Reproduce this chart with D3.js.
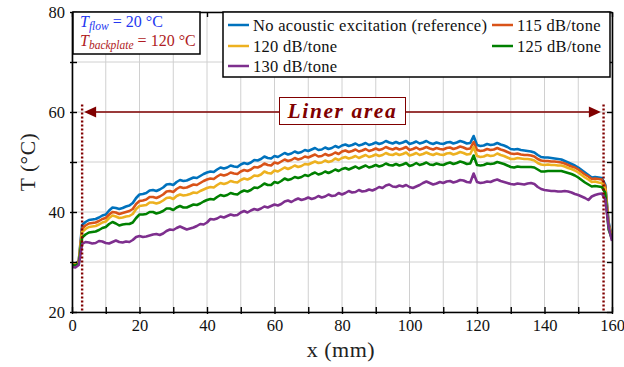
<!DOCTYPE html>
<html><head><meta charset="utf-8">
<script src="https://cdn.jsdelivr.net/npm/d3@7"></script>
<style>
body{margin:0;background:#fff}
svg{display:block}
text{font-family:"Liberation Serif","Times New Roman",serif}
</style>
</head><body>
<svg id="c" width="624" height="367"></svg>
<script>
// ---------- DATA ----------
const xMm = d3.range(0, 161, 1); // sample positions, mm
const seriesNames = ["No acoustic excitation (reference)", "115 dB/tone", "120 dB/tone", "125 dB/tone", "130 dB/tone"];
const seriesColors = ["#0072BD", "#D95319", "#EDB120", "#008000", "#7E2F8E"];
const tRef = [29.8,29.7,30.2,37.4,38.0,38.4,38.5,38.6,38.9,39.3,39.5,40.3,40.9,40.8,40.6,40.8,41.1,41.3,41.8,42.8,
43.5,43.6,43.8,44.3,44.4,44.2,44.5,44.9,45.5,45.6,45.4,46.0,46.4,46.2,46.3,46.6,46.9,46.8,47.2,47.6,
47.9,48.1,48.0,48.5,48.9,48.7,48.9,49.3,49.1,49.0,49.5,49.8,49.6,49.9,50.4,50.3,50.6,51.1,50.8,50.7,
51.2,51.0,51.4,51.8,51.5,51.7,52.1,51.8,52.0,52.4,52.2,52.5,52.8,52.4,52.5,52.9,52.6,52.8,53.2,52.9,
53.3,53.5,53.2,53.4,53.7,53.3,53.5,53.8,53.4,53.6,53.9,53.6,53.8,54.2,53.9,53.7,54.0,53.7,53.9,54.2,
53.6,53.8,54.1,53.7,53.9,54.2,53.8,53.6,53.9,53.7,53.6,53.9,54.0,53.7,53.9,54.2,54.0,53.7,53.8,55.2,
53.4,53.2,53.3,53.6,53.4,53.5,53.8,53.5,53.3,53.0,52.6,52.5,52.6,52.4,52.3,52.2,52.1,51.9,51.4,51.0,
50.9,50.9,50.8,50.7,50.6,50.5,50.2,49.9,49.6,49.3,48.9,48.4,47.9,47.4,46.9,47.0,46.9,46.8,45.5,38.0,34.8];
const t115 = [29.8,29.6,30.1,36.7,37.3,37.7,37.8,37.9,38.2,38.6,38.8,39.5,40.0,39.9,39.6,39.8,40.0,40.2,40.6,41.6,
42.2,42.3,42.5,43.0,43.0,42.8,43.1,43.5,44.1,44.2,44.0,44.6,45.0,44.8,44.9,45.2,45.5,45.4,45.8,46.2,
46.5,46.7,46.6,47.1,47.5,47.3,47.5,47.9,47.7,47.6,48.1,48.4,48.2,48.5,49.0,48.9,49.2,49.7,49.4,49.3,
49.9,49.7,50.1,50.5,50.2,50.4,50.8,50.5,50.7,51.1,50.9,51.2,51.5,51.1,51.2,51.6,51.3,51.5,51.9,51.6,
52.1,52.3,52.0,52.2,52.5,52.1,52.3,52.6,52.2,52.4,52.7,52.4,52.6,53.0,52.7,52.5,52.8,52.5,52.7,53.0,
52.4,52.6,52.9,52.5,52.7,53.0,52.7,52.5,52.8,52.6,52.5,52.8,52.9,52.6,52.8,53.1,52.9,52.6,52.7,54.0,
52.4,52.2,52.3,52.6,52.4,52.5,52.8,52.5,52.3,52.0,51.7,51.6,51.7,51.5,51.4,51.4,51.3,51.1,50.6,50.3,
50.2,50.2,50.1,50.1,50.0,49.9,49.7,49.4,49.1,48.9,48.5,48.0,47.5,47.1,46.6,46.7,46.6,46.5,45.2,37.6,34.6];
const t120 = [29.6,29.5,30.0,36.0,36.6,37.0,37.1,37.2,37.5,37.9,38.1,38.8,39.3,39.1,38.8,38.9,39.1,39.2,39.6,40.6,
41.2,41.3,41.4,41.9,41.9,41.7,41.9,42.3,42.8,42.9,42.6,43.2,43.5,43.3,43.4,43.6,43.9,43.8,44.2,44.5,
44.8,45.0,44.9,45.4,45.8,45.6,45.8,46.2,46.0,45.9,46.4,46.7,46.5,46.8,47.3,47.2,47.5,48.1,47.8,47.7,
48.3,48.1,48.5,48.9,48.6,48.9,49.3,49.0,49.2,49.6,49.5,49.8,50.1,49.8,49.9,50.3,50.0,50.2,50.7,50.4,
50.8,51.0,50.7,50.9,51.2,50.8,51.1,51.4,51.0,51.2,51.5,51.2,51.4,51.8,51.5,51.4,51.7,51.4,51.6,51.9,
51.3,51.5,51.8,51.4,51.6,51.9,51.6,51.4,51.7,51.5,51.4,51.7,51.8,51.5,51.7,52.0,51.8,51.5,51.6,53.0,
51.2,51.0,51.1,51.4,51.2,51.3,51.7,51.4,51.2,50.9,50.6,50.6,50.8,50.7,50.6,50.6,50.5,50.3,49.8,49.5,
49.4,49.5,49.4,49.4,49.3,49.3,49.1,48.8,48.6,48.3,47.9,47.4,46.9,46.5,46.0,46.1,45.9,45.8,44.6,37.2,34.7];
const t125 = [29.4,29.3,29.7,34.9,35.5,35.9,36.0,36.1,36.4,36.8,37.0,37.6,38.0,37.7,37.3,37.5,37.6,37.6,37.9,38.8,
39.5,39.5,39.6,40.0,40.0,39.7,39.9,40.2,40.7,40.7,40.4,40.9,41.2,40.9,40.9,41.2,41.5,41.4,41.7,42.1,
42.4,42.6,42.5,43.0,43.4,43.2,43.4,43.8,43.6,43.5,44.0,44.3,44.1,44.4,44.9,44.8,45.2,45.7,45.4,45.4,
46.0,45.8,46.2,46.7,46.4,46.6,47.0,46.8,47.0,47.4,47.2,47.6,47.9,47.5,47.7,48.1,47.8,48.1,48.5,48.2,
48.6,48.8,48.5,48.8,49.1,48.7,49.0,49.3,48.9,49.1,49.4,49.1,49.3,49.7,49.4,49.3,49.6,49.3,49.5,49.8,
49.2,49.4,49.8,49.4,49.6,49.9,49.5,49.4,49.7,49.5,49.4,49.7,49.9,49.6,49.8,50.1,49.9,49.6,49.7,51.3,
49.4,49.3,49.4,49.7,49.6,49.7,50.0,49.8,49.6,49.3,49.0,48.9,49.1,49.0,49.0,49.0,49.0,48.9,48.5,48.1,
48.1,48.2,48.2,48.2,48.2,48.2,48.0,47.8,47.6,47.3,46.9,46.4,45.9,45.5,45.1,45.2,45.1,45.0,43.8,36.5,34.6];
const t130 = [29.0,28.9,29.4,33.6,34.0,33.9,33.7,33.8,34.2,34.1,33.8,33.7,34.0,34.3,34.0,33.9,34.1,34.0,34.4,35.0,
35.2,35.0,35.1,35.3,35.5,35.6,35.4,35.7,36.2,36.5,36.4,36.8,37.1,36.8,36.5,36.7,36.9,37.2,37.6,37.5,
37.9,38.6,38.5,38.7,39.1,38.9,39.2,39.5,39.3,39.4,39.9,40.2,39.9,40.3,40.6,40.4,40.7,41.1,40.9,41.2,
41.5,41.3,41.6,42.1,42.3,42.0,42.4,42.7,42.4,42.6,42.9,42.6,42.8,43.2,42.9,43.1,43.5,43.2,43.3,43.8,
43.5,43.8,44.2,43.9,44.0,44.4,44.1,44.2,44.5,44.3,44.6,45.0,44.8,45.3,45.5,45.1,45.0,45.3,45.1,45.4,
45.0,44.8,45.1,45.4,45.8,46.1,45.8,45.5,45.7,46.0,45.8,46.1,46.2,45.9,46.1,46.4,46.3,46.0,45.9,47.7,
46.0,45.8,45.9,46.1,46.0,46.3,46.5,46.2,46.0,45.8,45.6,45.5,45.7,45.6,45.5,45.7,45.8,45.6,45.0,44.6,
44.4,44.3,44.2,44.2,44.1,44.1,44.2,44.1,43.9,43.6,43.4,43.1,42.8,42.4,43.1,43.4,43.6,43.7,42.5,37.0,34.2];
const seriesValues = [tRef, t115, t120, t125, t130];
const xTicks = d3.range(0, 161, 10);
const xTickLabels = [0, 20, 40, 60, 80, 100, 120, 140, 160];
const yTicks = [20, 30, 40, 50, 60, 70, 80];
const yTickLabels = [20, 40, 60, 80];
const linerStart = 3, linerEnd = 157.5;

// ---------- CHART ----------
const svg = d3.select("#c");
const L = 72, R = 612, T = 12, B = 312;
const x = d3.scaleLinear().domain([0, 160]).range([L, R]);
const y = d3.scaleLinear().domain([20, 80]).range([B, T]);

// grid
const grid = svg.append("g").attr("stroke", "#d0d0d0").attr("stroke-width", 1);
grid.selectAll(".gx").data(xTicks).join("line")
  .attr("x1", d => x(d)).attr("x2", d => x(d)).attr("y1", T).attr("y2", B);
grid.selectAll(".gy").data(yTicks).join("line")
  .attr("y1", d => y(d)).attr("y2", d => y(d)).attr("x1", L).attr("x2", R);

// curves
svg.append("clipPath").attr("id", "clip").append("rect")
  .attr("x", L).attr("y", T).attr("width", R - L).attr("height", B - T);
const line = d3.line().x((d, i) => x(xMm[i])).y(d => y(d));
svg.append("g").attr("clip-path", "url(#clip)")
  .selectAll("path").data(seriesValues).join("path")
  .attr("d", d => line(d)).attr("fill", "none")
  .attr("stroke", (d, i) => seriesColors[i]).attr("stroke-width", 2.6)
  .attr("stroke-linejoin", "round");

// liner dotted lines
const dark = "#800000";
svg.append("g").selectAll("line").data([linerStart, linerEnd]).join("line")
  .attr("x1", d => x(d)).attr("x2", d => x(d)).attr("y1", y(61.5)).attr("y2", B)
  .attr("stroke", dark).attr("stroke-width", 2.4).attr("stroke-dasharray", "2,2");

// arrow
const ay = y(60);
const ax1 = x(3.6), ax2 = x(156.7);
svg.append("line").attr("x1", ax1 + 6).attr("x2", ax2 - 6).attr("y1", ay).attr("y2", ay)
  .attr("stroke", dark).attr("stroke-width", 1.5);
svg.append("path").attr("fill", dark)
  .attr("d", `M${ax1},${ay} L${ax1 + 12},${ay - 5.5} L${ax1 + 12},${ay + 5.5} Z`);
svg.append("path").attr("fill", dark)
  .attr("d", `M${ax2},${ay} L${ax2 - 12},${ay - 5.5} L${ax2 - 12},${ay + 5.5} Z`);
svg.append("rect").attr("x", 279.5).attr("y", 97.5).attr("width", 126).attr("height", 27)
  .attr("fill", "#fff").attr("stroke", dark).attr("stroke-width", 1);
svg.append("text").attr("x", 342.5).attr("y", 118).attr("text-anchor", "middle")
  .attr("fill", dark).attr("font-size", 21.5).attr("font-weight", "bold").attr("font-style", "italic")
  .attr("letter-spacing", 1.6).text("Liner area");

// axes
function styleAxis(g) {
  g.select(".domain").attr("stroke", "#000").attr("stroke-width", 1.6);
  g.selectAll(".tick line").attr("stroke", "#000").attr("stroke-width", 1.4);
  g.selectAll(".tick text").attr("font-size", 16.5).attr("fill", "#111");
}
const gx = svg.append("g").attr("transform", `translate(0,${B})`)
  .call(d3.axisBottom(x).tickValues(xTicks).tickSizeOuter(0).tickSizeInner(-5).tickPadding(7)
    .tickFormat(d => xTickLabels.includes(d) ? d : ""));
gx.selectAll(".tick line").attr("y1", 2);
styleAxis(gx);
const gy = svg.append("g").attr("transform", `translate(${L},0)`)
  .call(d3.axisLeft(y).tickValues(yTicks).tickSizeOuter(0).tickSizeInner(-5).tickPadding(7)
    .tickFormat(d => yTickLabels.includes(d) ? d : ""));
gy.selectAll(".tick line").attr("x1", -2);
styleAxis(gy);
const gt = svg.append("g").attr("transform", `translate(0,${T})`)
  .call(d3.axisTop(x).tickValues(xTicks).tickSizeOuter(0).tickSizeInner(-5).tickFormat(""));
styleAxis(gt);
const gr = svg.append("g").attr("transform", `translate(${R},0)`)
  .call(d3.axisRight(y).tickValues(yTicks).tickSizeOuter(0).tickSizeInner(-5).tickFormat(""));
styleAxis(gr);

// axis titles
svg.append("text").attr("x", 341).attr("y", 357).attr("text-anchor", "middle")
  .attr("font-size", 22).attr("fill", "#222").attr("letter-spacing", 0.5).text("x (mm)");
svg.append("text").attr("transform", "translate(35,162) rotate(-90)").attr("text-anchor", "middle")
  .attr("font-size", 21.5).attr("fill", "#222").attr("letter-spacing", 0.5).text("T (°C)");

// annotation box
svg.append("rect").attr("x", 73).attr("y", 12).attr("width", 127).attr("height", 42)
  .attr("fill", "#fff").attr("stroke", "#000").attr("stroke-width", 1.5);
const a1 = svg.append("text").attr("x", 80).attr("y", 27).attr("fill", "#2438f0").attr("font-size", 16);
a1.append("tspan").attr("font-style", "italic").text("T");
a1.append("tspan").attr("font-style", "italic").attr("font-size", 11.5).attr("dy", 3).text("flow");
a1.append("tspan").attr("dy", -3).text(" = 20 °C");
const a2 = svg.append("text").attr("x", 80).attr("y", 46).attr("fill", "#b01c24").attr("font-size", 16);
a2.append("tspan").attr("font-style", "italic").text("T");
a2.append("tspan").attr("font-style", "italic").attr("font-size", 11.5).attr("dy", 3).text("backplate");
a2.append("tspan").attr("dy", -3).text(" = 120 °C");

// legend
svg.append("rect").attr("x", 223).attr("y", 12).attr("width", 387).attr("height", 65)
  .attr("fill", "#fff").attr("stroke", "#000").attr("stroke-width", 1.5);
const legPos = [[228, 25], [492, 25], [228, 46], [492, 46], [228, 66]];
const lg = svg.append("g").selectAll("g").data(seriesNames).join("g")
  .attr("transform", (d, i) => `translate(${legPos[i][0]},${legPos[i][1]})`);
lg.append("line").attr("x1", 0).attr("x2", 21).attr("stroke", (d, i) => seriesColors[i]).attr("stroke-width", 2.5);
lg.append("text").attr("x", 25).attr("y", 5.5).attr("font-size", 16.5).attr("letter-spacing", 0.3)
  .attr("fill", "#111").text(d => d);
</script>
</body></html>
